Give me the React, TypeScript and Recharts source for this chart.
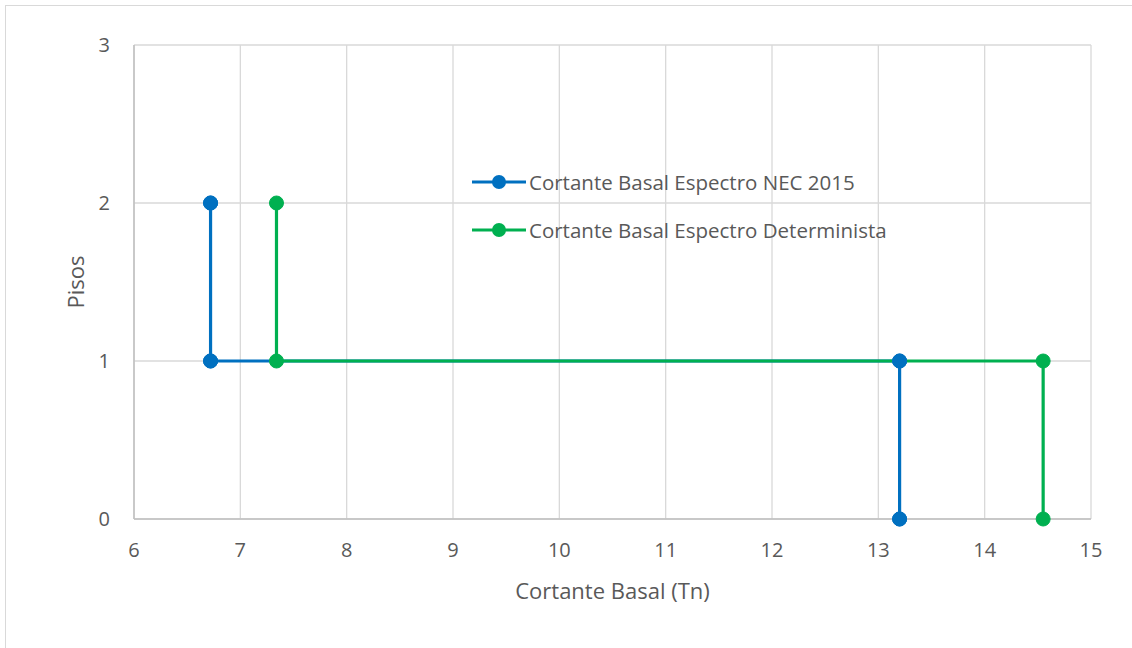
import { LineChart, Line, XAxis, YAxis, CartesianGrid } from 'recharts'

const nivelesPiso = [0, 1, 1, 2]
const cortanteNec = [13.2, 13.2, 6.72, 6.72]
const cortanteDet = [14.55, 14.55, 7.34, 7.34]
const xTicks = [6, 7, 8, 9, 10, 11, 12, 13, 14, 15]
const yTicks = [0, 1, 2, 3]

const BLUE = '#0070C0'
const GREEN = '#00B050'
const FONT = '"Open Sans", sans-serif'

const necData = cortanteNec.map((x, i) => ({ x, y: nivelesPiso[i] }))
const detData = cortanteDet.map((x, i) => ({ x, y: nivelesPiso[i] }))

const legendItems = [
  { label: 'Cortante Basal Espectro NEC 2015', color: BLUE },
  { label: 'Cortante Basal Espectro Determinista', color: GREEN },
]

function LegendBox() {
  return (
    <div style={{ position: 'absolute', left: 472, top: 158, fontFamily: FONT, fontSize: 20.5, color: '#595959' }}>
      {legendItems.map((it) => (
        <div key={it.label} style={{ display: 'flex', alignItems: 'center', height: 48, whiteSpace: 'nowrap' }}>
          <svg width={54} height={16} style={{ marginRight: 3 }}>
            <line x1={0} y1={8} x2={54} y2={8} stroke={it.color} strokeWidth={3.2} />
            <circle cx={27} cy={8} r={7} fill={it.color} />
          </svg>
          <span>{it.label}</span>
        </div>
      ))}
    </div>
  )
}

export default function App() {
  return (
    <div style={{ position: 'absolute', left: 0, top: 0, width: 1132, height: 648, overflow: 'hidden', background: '#fff' }}>
      <div style={{ position: 'absolute', left: 5, top: 5, width: 1200, height: 700, border: '1px solid #d9d9d9' }} />
      <div style={{ position: 'absolute', left: 0, top: 0 }}>
        <LineChart width={1132} height={648} margin={{ top: 45, right: 41, left: 0, bottom: 0 }}>
          <CartesianGrid stroke="#d9d9d9" strokeWidth={1.3} />
          <XAxis
            type="number"
            dataKey="x"
            domain={[6, 15]}
            ticks={xTicks}
            allowDuplicatedCategory={false}
            stroke="#bfbfbf"
            strokeWidth={1.5}
            tickLine={false}
            tickSize={0}
            tickMargin={24}
            height={129}
            tick={{ fontSize: 20, fill: '#595959', fontFamily: FONT }}
            label={{ value: 'Cortante Basal (Tn)', position: 'insideTop', offset: 64, fontSize: 22, fill: '#595959', fontFamily: FONT }}
          />
          <YAxis
            type="number"
            dataKey="y"
            domain={[0, 3]}
            ticks={yTicks}
            stroke="#bfbfbf"
            strokeWidth={1.5}
            tickLine={false}
            tickSize={0}
            tickMargin={24}
            width={134}
            tick={{ fontSize: 20, fill: '#595959', fontFamily: FONT }}
            label={{ value: 'Pisos', angle: -90, position: 'center', dx: 9, fontSize: 22, fill: '#595959', fontFamily: FONT }}
          />
          <Line
            data={necData}
            dataKey="y"
            stroke={BLUE}
            strokeWidth={3.2}
            dot={{ r: 7, fill: BLUE, stroke: BLUE, strokeWidth: 1 }}
            isAnimationActive={false}
          />
          <Line
            data={detData}
            dataKey="y"
            stroke={GREEN}
            strokeWidth={3.2}
            dot={{ r: 7, fill: GREEN, stroke: GREEN, strokeWidth: 1 }}
            isAnimationActive={false}
          />
          <Line
            data={necData}
            dataKey="y"
            stroke="none"
            legendType="none"
            dot={{ r: 7, fill: BLUE, stroke: BLUE, strokeWidth: 1 }}
            isAnimationActive={false}
          />
        </LineChart>
      </div>
      <LegendBox />
    </div>
  )
}
